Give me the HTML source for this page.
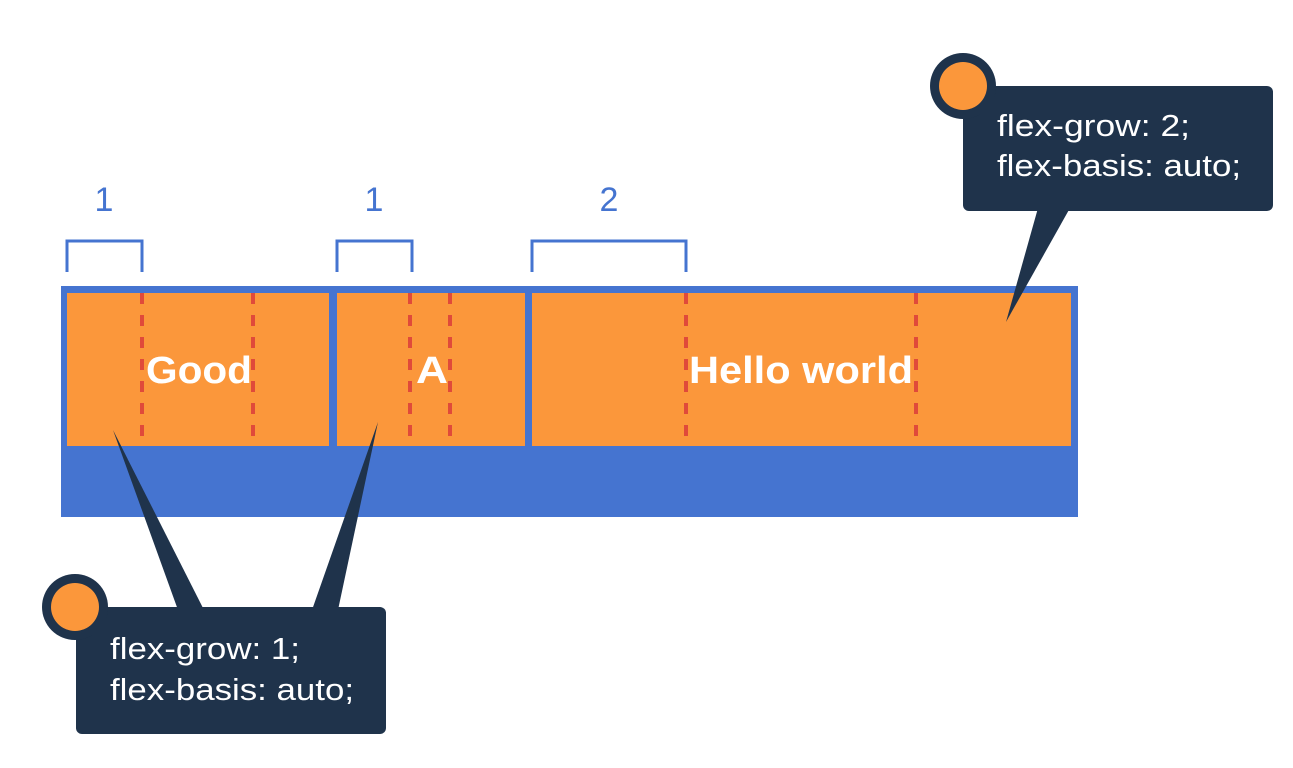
<!DOCTYPE html>
<html><head><style>
body{margin:0;width:1293px;height:763px;background:#fff;overflow:hidden;font-family:"Liberation Sans","DejaVu Sans",sans-serif}
</style></head><body>
<svg width="1293" height="763" xmlns="http://www.w3.org/2000/svg">
<rect x="61" y="286" width="1017" height="231" fill="#4574d0"/>
<rect x="67" y="293" width="262" height="153" fill="#fb973b"/>
<rect x="337" y="293" width="188" height="153" fill="#fb973b"/>
<rect x="532" y="293" width="539" height="153" fill="#fb973b"/>
<g stroke="#e04a3a" stroke-width="4" stroke-dasharray="11,11">
<line x1="142" y1="293" x2="142" y2="446"/><line x1="253" y1="293" x2="253" y2="446"/>
<line x1="410" y1="293" x2="410" y2="446"/><line x1="450" y1="293" x2="450" y2="446"/>
<line x1="686" y1="293" x2="686" y2="446"/><line x1="916" y1="293" x2="916" y2="446"/>
</g>
<g fill="#fff" font-weight="bold" font-size="38">
<text x="146" y="383" textLength="106" lengthAdjust="spacingAndGlyphs">Good</text>
<text x="416" y="383" textLength="32" lengthAdjust="spacingAndGlyphs">A</text>
<text x="689" y="383" textLength="224" lengthAdjust="spacingAndGlyphs">Hello world</text>
</g>
<g fill="none" stroke="#4574d0" stroke-width="3">
<path d="M67 272V241H142V272"/><path d="M337 272V241H412V272"/><path d="M532 272V241H686V272"/>
</g>
<g fill="#4574d0" font-size="34" text-anchor="middle">
<text x="104" y="211">1</text><text x="374" y="211">1</text><text x="609" y="211">2</text>
</g>
<polygon points="1038,208 1070,208 1006,322" fill="#1f334b"/>
<rect x="963" y="86" width="310" height="125" rx="6" fill="#1f334b"/>
<circle cx="963" cy="86" r="33" fill="#1f334b"/><circle cx="963" cy="86" r="24" fill="#fb973b"/>
<g fill="#fff" font-size="31">
<text x="997" y="136" textLength="193" lengthAdjust="spacingAndGlyphs">flex-grow: 2;</text>
<text x="997" y="176" textLength="244" lengthAdjust="spacingAndGlyphs">flex-basis: auto;</text></g>
<polygon points="113,430 178,610 204,610" fill="#1f334b"/>
<polygon points="378,422 312,610 338,610" fill="#1f334b"/>
<rect x="76" y="607" width="310" height="127" rx="6" fill="#1f334b"/>
<circle cx="75" cy="607" r="33" fill="#1f334b"/><circle cx="75" cy="607" r="24" fill="#fb973b"/>
<g fill="#fff" font-size="31">
<text x="110" y="659" textLength="190" lengthAdjust="spacingAndGlyphs">flex-grow: 1;</text>
<text x="110" y="700" textLength="244" lengthAdjust="spacingAndGlyphs">flex-basis: auto;</text></g>
</svg>
</body></html>
